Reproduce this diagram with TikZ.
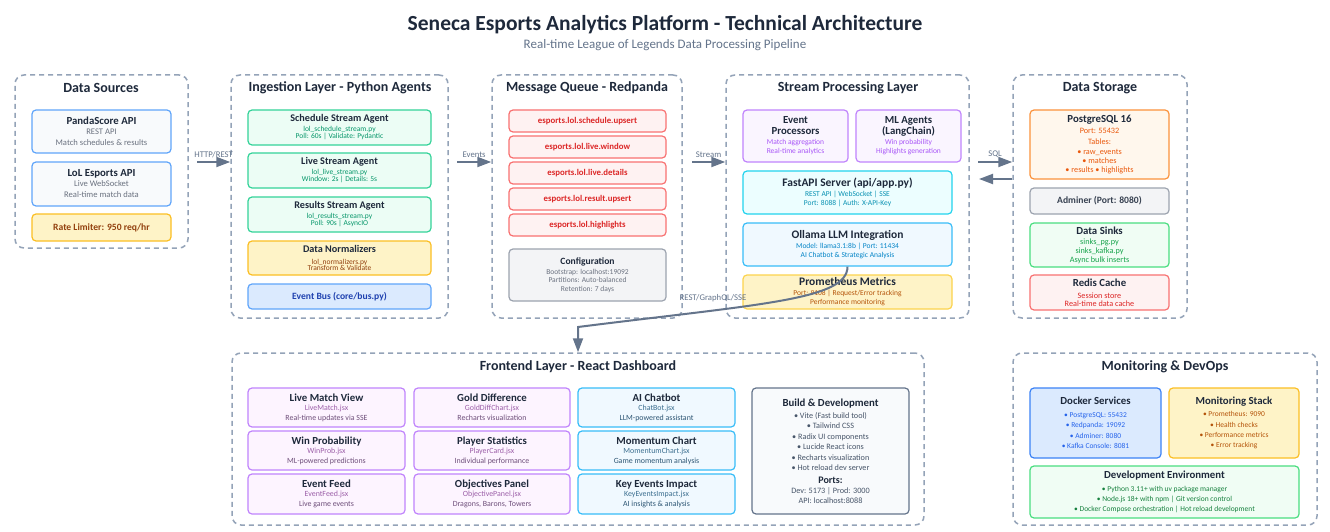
\documentclass[tikz,border=0pt]{standalone}
\usepackage{fontspec}
\setmainfont{Carlito}
\usetikzlibrary{arrows.meta}

\definecolor{cDark}{HTML}{1E293B}
\definecolor{cSub}{HTML}{64748B}
\definecolor{cGrp}{HTML}{94A3B8}
\definecolor{cArrow}{HTML}{64748B}
\definecolor{cGray}{HTML}{6B7280}
\definecolor{bBlueF}{HTML}{F8FAFC}
\definecolor{bBlueD}{HTML}{60A5FA}
\definecolor{yelF}{HTML}{FEF3C7}
\definecolor{yelD}{HTML}{FBBF24}
\definecolor{brown}{HTML}{92400E}
\definecolor{grnF}{HTML}{ECFDF5}
\definecolor{grnD}{HTML}{34D399}
\definecolor{grnT}{HTML}{059669}
\definecolor{busF}{HTML}{DBEAFE}
\definecolor{busT}{HTML}{1E40AF}
\definecolor{redF}{HTML}{FEF2F2}
\definecolor{redD}{HTML}{F87171}
\definecolor{redT}{HTML}{DC2626}
\definecolor{cfgF}{HTML}{F3F4F6}
\definecolor{cfgD}{HTML}{9CA3AF}
\definecolor{purF}{HTML}{FAF5FF}
\definecolor{purD}{HTML}{C084FC}
\definecolor{purT}{HTML}{A855F7}
\definecolor{cyaF}{HTML}{ECFEFF}
\definecolor{cyaD}{HTML}{22D3EE}
\definecolor{cyaT}{HTML}{0891B2}
\definecolor{skyF}{HTML}{F0F9FF}
\definecolor{skyD}{HTML}{38BDF8}
\definecolor{skyT}{HTML}{0284C7}
\definecolor{proD}{HTML}{FCD34D}
\definecolor{proT}{HTML}{B45309}
\definecolor{orgF}{HTML}{FFF7ED}
\definecolor{orgD}{HTML}{FB923C}
\definecolor{orgT}{HTML}{EA580C}
\definecolor{lgrF}{HTML}{F0FDF4}
\definecolor{lgrD}{HTML}{4ADE80}
\definecolor{lgrT}{HTML}{16A34A}
\definecolor{fpF}{HTML}{FDF4FF}
\definecolor{fpA}{HTML}{9C5FA8}
\definecolor{fpB}{HTML}{6E4E7A}
\definecolor{fbA}{HTML}{3B6E8F}
\definecolor{fbB}{HTML}{2C5573}
\definecolor{bldF}{HTML}{F8FAFC}
\definecolor{bldD}{HTML}{64748B}
\definecolor{bldT}{HTML}{475569}
\definecolor{dokF}{HTML}{DBEAFE}
\definecolor{dokD}{HTML}{3B82F6}
\definecolor{dokT}{HTML}{2563EB}
\definecolor{devT}{HTML}{15803D}
\definecolor{admT}{HTML}{374151}

\newcommand\bt[1]{{\fontsize{10.8}{12}\selectfont\bfseries #1}}
\newcommand\bti[1]{{\fontsize{10.2}{12}\selectfont\bfseries #1}}
\newcommand\btb[1]{{\fontsize{11.5}{12}\selectfont\bfseries #1}}
\newcommand\bs[1]{{\fontsize{9.6}{12}\selectfont\bfseries #1}}
\newcommand\sub[2]{{\color{#1}#2}}
\newcommand\mkbox[7]{\node[#2, minimum width={(#5-#3)*1pt}, minimum height={(#6-#4)*1pt}] (#1) at ({(#3+#5)/2},{(#4+#6)/2}) {#7};}

\tikzset{
  grp/.style={draw=cGrp, line width=1.5pt, dash pattern=on 5pt off 4pt, rounded corners=9pt, inner sep=0pt},
  bx/.style 2 args={draw=#1, fill=#2, line width=1.2pt, rounded corners=4pt, inner sep=1pt, align=center, text=cDark, font=\fontsize{8.2}{10}\selectfont},
  sA/.style={font=\fontsize{7.5}{10}\selectfont},
  sB/.style={font=\fontsize{8.6}{10}\selectfont},
  sC/.style={font=\fontsize{7.9}{10}\selectfont},
  flow/.style={draw=cArrow, line width=2pt, -{Triangle[length=14pt,width=10pt]}},
  lbl/.style={font=\fontsize{8.7}{10}\selectfont, text=cArrow, inner sep=1pt},
  gt/.style={font=\fontsize{14}{16}\selectfont\bfseries, text=cDark, inner sep=0pt},
  topic/.style={bx={redD}{redF}, text=redT, font=\fontsize{8.8}{10}\selectfont\bfseries},
}

\begin{document}
\begin{tikzpicture}[x=1pt,y=-1pt]
\useasboundingbox[fill=white] (0,0) rectangle (1330,532);

% titles
\node[font=\fontsize{21.5}{25}\selectfont\bfseries, text=cDark] (title) at (665,25) {Seneca Esports Analytics Platform - Technical Architecture};
\node[font=\fontsize{13}{15}\selectfont, text=cSub] (subtitle) at (665,45) {Real-time League of Legends Data Processing Pipeline};

% groups
\mkbox{g1}{grp}{15}{75}{188}{248}{}
\mkbox{g2}{grp}{231}{75}{448}{318}{}
\mkbox{g3}{grp}{492}{75}{682}{318}{}
\mkbox{g4}{grp}{726}{75}{969}{318}{}
\mkbox{g5}{grp}{1013}{75}{1187}{318}{}
\mkbox{g6}{grp}{232}{353}{924}{525}{}
\mkbox{g7}{grp}{1013}{353}{1317}{525}{}
\node[gt] (t1) at (101,88) {Data Sources};
\node[gt] (t2) at (340,88) {Ingestion Layer - Python Agents};
\node[gt] (t3) at (587,88) {Message Queue - Redpanda};
\node[gt] (t4) at (848,88) {Stream Processing Layer};
\node[gt] (t5) at (1100,88) {Data Storage};
\node[gt] (t6) at (578,367) {Frontend Layer - React Dashboard};
\node[gt] (t7) at (1165,367) {Monitoring \& DevOps};

% data sources
\mkbox{ps}{bx={bBlueD}{bBlueF}, sB}{32}{110}{171}{153}{\bt{PandaScore API}\\[0pt]\sub{cGray}{REST API}\\[1pt]\sub{cGray}{Match schedules \& results}}
\mkbox{lol}{bx={bBlueD}{bBlueF}, sB}{32}{162}{171}{206}{\bt{LoL Esports API}\\[0pt]\sub{cGray}{Live WebSocket}\\[1pt]\sub{cGray}{Real-time match data}}
\mkbox{rl}{bx={yelD}{yelF}, text=brown}{32}{214}{171}{241}{\bs{Rate Limiter: 950 req/hr}}

% ingestion
\mkbox{sch}{bx={grnD}{grnF}, sA}{248}{110}{431}{145}{\bti{Schedule Stream Agent}\\[0pt]\sub{grnT}{lol\_schedule\_stream.py}\\[-3pt]\sub{grnT}{Poll: 60s | Validate: Pydantic}}
\mkbox{live}{bx={grnD}{grnF}, sA}{248}{153}{431}{188}{\bti{Live Stream Agent}\\[0pt]\sub{grnT}{lol\_live\_stream.py}\\[-3pt]\sub{grnT}{Window: 2s | Details: 5s}}
\mkbox{res}{bx={grnD}{grnF}, sA}{248}{197}{431}{232}{\bti{Results Stream Agent}\\[0pt]\sub{grnT}{lol\_results\_stream.py}\\[-3pt]\sub{grnT}{Poll: 90s | AsyncIO}}
\mkbox{norm}{bx={yelD}{yelF}, sA}{248}{241}{431}{275}{\bti{Data Normalizers}\\[1.5pt]\sub{brown}{lol\_normalizers.py}\\[-4pt]\sub{brown}{Transform \& Validate}}
\mkbox{bus}{bx={bBlueD}{busF}, text=busT}{248}{284}{431}{309}{\bs{Event Bus (core/bus.py)}}

% message queue
\mkbox{tp1}{topic}{509}{110}{666}{132}{esports.lol.schedule.upsert}
\mkbox{tp2}{topic}{509}{136}{666}{158}{esports.lol.live.window}
\mkbox{tp3}{topic}{509}{162}{666}{184}{esports.lol.live.details}
\mkbox{tp4}{topic}{509}{188}{666}{210}{esports.lol.result.upsert}
\mkbox{tp5}{topic}{509}{214}{666}{236}{esports.lol.highlights}
\mkbox{cfg}{bx={cfgD}{cfgF}, sA}{509}{249}{666}{301}{\bs{Configuration}\\[0pt]\sub{cGray}{Bootstrap: localhost:19092}\\[-2pt]\sub{cGray}{Partitions: Auto-balanced}\\[-1pt]\sub{cGray}{Retention: 7 days}}

% stream processing
\mkbox{ep}{bx={purD}{purF}, sA}{743}{110}{848}{162}{\bt{Event}\\[1pt]\bt{Processors}\\[0pt]\sub{purT}{Match aggregation}\\[-1pt]\sub{purT}{Real-time analytics}}
\mkbox{ml}{bx={purD}{purF}, sA}{856}{110}{961}{162}{\bt{ML Agents}\\[1pt]\bt{(LangChain)}\\[0pt]\sub{purT}{Win probability}\\[-1pt]\sub{purT}{Highlights generation}}
\mkbox{api}{bx={cyaD}{cyaF}, sA}{743}{171}{952}{214}{\btb{FastAPI Server (api/app.py)}\\[0pt]\sub{cyaT}{REST API | WebSocket | SSE}\\[-1pt]\sub{cyaT}{Port: 8088 | Auth: X-API-Key}}
\mkbox{oll}{bx={skyD}{skyF}, sA}{743}{223}{952}{266}{\btb{Ollama LLM Integration}\\[0pt]\sub{skyT}{Model: llama3.1:8b | Port: 11434}\\[-1pt]\sub{skyT}{AI Chatbot \& Strategic Analysis}}
\mkbox{prom}{bx={proD}{yelF}, sA}{743}{275}{952}{309}{\btb{Prometheus Metrics}\\[0pt]\sub{proT}{Port: 9108 | Request/Error tracking}\\[-1pt]\sub{proT}{Performance monitoring}}

% storage
\mkbox{pg}{bx={orgD}{orgF}}{1030}{110}{1169}{179}{\bt{PostgreSQL 16}\\[1pt]\sub{orgT}{Port: 55432}\\[1pt]\sub{orgT}{Tables:}\\[0pt]\sub{orgT}{• raw\_events}\\[-1pt]\sub{orgT}{• matches}\\[-1pt]\sub{orgT}{• results • highlights}}
\mkbox{adm}{bx={cfgD}{cfgF}, text=admT}{1030}{188}{1169}{214}{\bs{Adminer (Port: 8080)}}
\mkbox{sinks}{bx={lgrD}{lgrF}}{1030}{223}{1169}{267}{\bt{Data Sinks}\\[0pt]\sub{lgrT}{sinks\_pg.py}\\[-1pt]\sub{lgrT}{sinks\_kafka.py}\\[-1pt]\sub{lgrT}{Async bulk inserts}}
\mkbox{redis}{bx={redD}{redF}}{1030}{275}{1169}{310}{\bt{Redis Cache}\\[1.5pt]\sub{redT}{Session store}\\[-2pt]\sub{redT}{Real-time data cache}}

% frontend
\mkbox{lmv}{bx={purD}{fpF}, sC}{248}{388}{405}{427}{\bt{Live Match View}\\[-1pt]\sub{fpA}{LiveMatch.jsx}\\[0pt]\sub{fpB}{Real-time updates via SSE}}
\mkbox{wp}{bx={purD}{fpF}, sC}{248}{431}{405}{470}{\bt{Win Probability}\\[-1pt]\sub{fpA}{WinProb.jsx}\\[0pt]\sub{fpB}{ML-powered predictions}}
\mkbox{ef}{bx={purD}{fpF}, sC}{248}{474}{405}{514}{\bt{Event Feed}\\[-1pt]\sub{fpA}{EventFeed.jsx}\\[0pt]\sub{fpB}{Live game events}}
\mkbox{gd}{bx={purD}{fpF}, sC}{414}{388}{570}{427}{\bt{Gold Difference}\\[-1pt]\sub{fpA}{GoldDiffChart.jsx}\\[0pt]\sub{fpB}{Recharts visualization}}
\mkbox{pst}{bx={purD}{fpF}, sC}{414}{431}{570}{470}{\bt{Player Statistics}\\[-1pt]\sub{fpA}{PlayerCard.jsx}\\[0pt]\sub{fpB}{Individual performance}}
\mkbox{op}{bx={purD}{fpF}, sC}{414}{474}{570}{514}{\bt{Objectives Panel}\\[-1pt]\sub{fpA}{ObjectivePanel.jsx}\\[0pt]\sub{fpB}{Dragons, Barons, Towers}}
\mkbox{ac}{bx={skyD}{skyF}, sC}{578}{388}{735}{427}{\bt{AI Chatbot}\\[-1pt]\sub{fbA}{ChatBot.jsx}\\[0pt]\sub{fbB}{LLM-powered assistant}}
\mkbox{mc}{bx={skyD}{skyF}, sC}{578}{431}{735}{470}{\bt{Momentum Chart}\\[-1pt]\sub{fbA}{MomentumChart.jsx}\\[0pt]\sub{fbB}{Game momentum analysis}}
\mkbox{ke}{bx={skyD}{skyF}, sC}{578}{474}{735}{514}{\bt{Key Events Impact}\\[-1pt]\sub{fbA}{KeyEventsImpact.jsx}\\[0pt]\sub{fbB}{AI insights \& analysis}}
\mkbox{build}{bx={bldD}{bldF}}{752}{388}{909}{514}{\bt{Build \& Development}\\[2.5pt]\sub{bldT}{• Vite (Fast build tool)}\\[0.4pt]\sub{bldT}{• Tailwind CSS}\\[0.4pt]\sub{bldT}{• Radix UI components}\\[0.4pt]\sub{bldT}{• Lucide React icons}\\[0.4pt]\sub{bldT}{• Recharts visualization}\\[0.4pt]\sub{bldT}{• Hot reload dev server}\\[2.5pt]{\fontsize{10}{11}\selectfont\bfseries Ports:}\\[0.5pt]\sub{bldT}{Dev: 5173 | Prod: 3000}\\[0pt]\sub{bldT}{API: localhost:8088}}

% monitoring
\mkbox{dock}{bx={dokD}{dokF}, sA}{1030}{388}{1161}{458}{\bt{Docker Services}\\[2.5pt]\sub{dokT}{• PostgreSQL: 55432}\\[0.4pt]\sub{dokT}{• Redpanda: 19092}\\[0.4pt]\sub{dokT}{• Adminer: 8080}\\[0.4pt]\sub{dokT}{• Kafka Console: 8081}}
\mkbox{mon}{bx={yelD}{yelF}, sA}{1169}{388}{1299}{458}{\bt{Monitoring Stack}\\[2.5pt]\sub{proT}{• Prometheus: 9090}\\[0.4pt]\sub{proT}{• Health checks}\\[0.4pt]\sub{proT}{• Performance metrics}\\[0.4pt]\sub{proT}{• Error tracking}}
\mkbox{dev}{bx={lgrD}{lgrF}, sA}{1030}{466}{1299}{518}{\bt{Development Environment}\\[3pt]\sub{devT}{• Python 3.11+ with uv package manager}\\[0.5pt]\sub{devT}{• Node.js 18+ with npm | Git version control}\\[0pt]\sub{devT}{• Docker Compose orchestration | Hot reload development}}

% connectors
\coordinate (c1) at (197,162);
\coordinate (c2) at (457,162);
\coordinate (c3) at (692,162);
\coordinate (c4) at (978,162);
\coordinate (c5) at (979,179);
\coordinate (bend) at (578,327);
\draw[flow] (c1) -- (c1 -| g2.west) node[lbl, midway, above=2pt] (l1) {HTTP/REST};
\draw[flow] (c2) -- (c2 -| g3.west) node[lbl, midway, above=2pt] (l2) {Events};
\draw[flow] (c3) -- (c3 -| g4.west) node[lbl, midway, above=2pt] (l3) {Stream};
\draw[flow] (c4) -- (c4 -| g5.west) node[lbl, midway, above=2pt] (l4) {SQL};
\draw[flow] (c5 -| g5.west) -- (c5);
\draw[flow] (oll.south) .. controls (847.5,300) and (760,304) .. (bend) -- (g6.north);
\node[lbl] (l5) at (713,298) {REST/GraphQL/SSE};
\end{tikzpicture}
\end{document}
